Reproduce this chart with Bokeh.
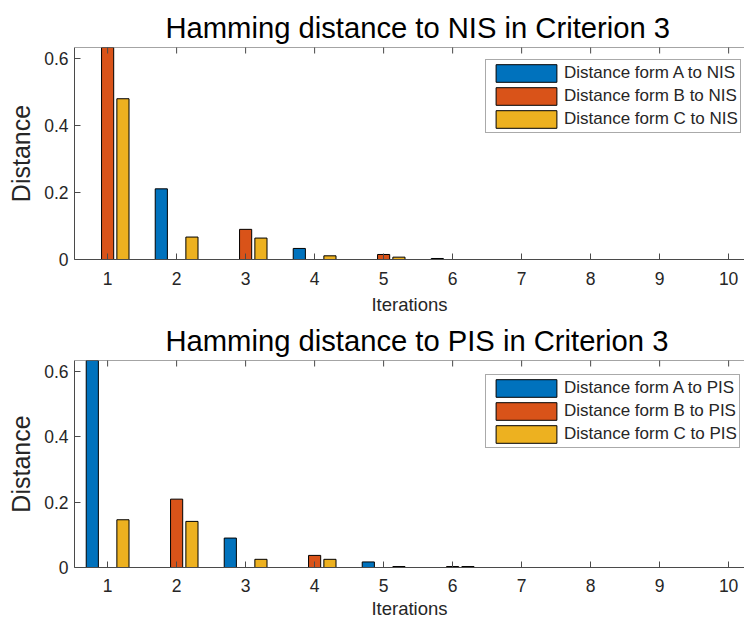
import math
from bokeh.plotting import figure
from bokeh.models import (Range1d, FixedTicker, NumeralTickFormatter,
                          ColumnDataSource, Legend, LegendItem, Span)
from bokeh.layouts import column
from bokeh.embed import file_html
from bokeh.resources import INLINE

# ---------------- data ----------------
iterations = [1, 2, 3, 4, 5, 6, 7, 8, 9, 10]

nis_A = [0.0, 0.211, 0.0, 0.033, 0.0, 0.003, 0.0, 0.0, 0.0, 0.0]
nis_B = [0.70, 0.0, 0.090, 0.0, 0.015, 0.0, 0.0, 0.0, 0.0, 0.0]
nis_C = [0.480, 0.067, 0.064, 0.011, 0.007, 0.0, 0.0, 0.0, 0.0, 0.0]

pis_A = [0.70, 0.0, 0.090, 0.0, 0.017, 0.0, 0.0, 0.0, 0.0, 0.0]
pis_B = [0.0, 0.209, 0.0, 0.037, 0.0, 0.003, 0.0, 0.0, 0.0, 0.0]
pis_C = [0.146, 0.141, 0.025, 0.025, 0.003, 0.003, 0.0, 0.0, 0.0, 0.0]

nis_labels = ["Distance form A to NIS", "Distance form B to NIS", "Distance form C to NIS"]
pis_labels = ["Distance form A to PIS", "Distance form B to PIS", "Distance form C to PIS"]
nis_title = "Hamming distance to NIS in Criterion 3"
pis_title = "Hamming distance to PIS in Criterion 3"
x_label = "Iterations"
y_label = "Distance"
y_ticks = [0, 0.2, 0.4, 0.6]
x_lim = (0.52, 10.23)
y_lim = (0, 0.633)

colors = ["#0072BD", "#D95319", "#EDB120"]
offsets = [-0.222, 0.0, 0.222]
FONT = "Liberation Sans"
TXT = "#262626"
AX = "#4a4a4a"


def make(title, series, labels, height, btop, bbot, leg_gap, tick_so, lab_so):
    p = figure(width=744, height=height, output_backend="svg", toolbar_location=None,
               x_range=Range1d(*x_lim), y_range=Range1d(*y_lim),
               min_border_left=74, min_border_right=0,
               min_border_top=btop, min_border_bottom=bbot,
               title=title)
    p.background_fill_color = "white"
    p.border_fill_color = "white"
    p.outline_line_color = None
    p.xgrid.visible = False
    p.ygrid.visible = False

    p.title.text_font = FONT
    p.title.text_font_size = "29.2px"
    p.title.text_font_style = "normal"
    p.title.text_color = "#000000"
    p.title.align = "left"
    p.title.offset = 91
    p.title.standoff = 8

    items = []
    for vals, off, col, lab in zip(series, offsets, colors, labels):
        xs = [x + off for x, v in zip(iterations, vals) if v > 0]
        ts = [v for v in vals if v > 0]
        src = ColumnDataSource(dict(x=xs, top=ts))
        r = p.vbar(x="x", top="top", bottom=0, width=0.176, source=src,
                   fill_color=col, line_color="#000000", line_width=1)
        items.append(LegendItem(label=lab, renderers=[r]))

    # top box line and inward top ticks
    p.add_layout(Span(location=y_lim[1], dimension="width", line_color=AX, line_width=1))
    p.scatter(x=iterations, y=[y_lim[1]] * len(iterations), marker="dash", size=12,
              angle=math.pi / 2, line_color=AX, line_width=1)

    xa = p.xaxis[0]
    xa.ticker = FixedTicker(ticks=iterations)
    xa.axis_label = x_label
    ya = p.yaxis[0]
    ya.ticker = FixedTicker(ticks=y_ticks)
    ya.formatter = NumeralTickFormatter(format="0.[0]")
    ya.axis_label = y_label

    for ax in (xa, ya):
        ax.axis_line_color = AX
        ax.major_tick_line_color = AX
        ax.major_tick_in = 6
        ax.major_tick_out = 0
        ax.minor_tick_line_color = None
        ax.major_label_text_font = FONT
        ax.major_label_text_color = TXT
        ax.axis_label_text_font = FONT
        ax.axis_label_text_color = TXT
        ax.axis_label_text_font_style = "normal"
    xa.major_label_text_font_size = "17.5px"
    ya.major_label_text_font_size = "17.5px"
    xa.axis_label_text_font_size = "18.5px"
    ya.axis_label_text_font_size = "25px"
    xa.major_label_standoff = tick_so
    xa.axis_label_standoff = lab_so
    ya.major_label_standoff = 6
    ya.axis_label_standoff = 6

    frame_h = height - btop - bbot
    leg = Legend(items=items, location=(411, frame_h - leg_gap - 72),
                 glyph_width=76, glyph_height=22, label_height=22,
                 label_standoff=0, spacing=1, padding=2,
                 label_text_font=FONT, label_text_font_size="17px",
                 label_text_color=TXT, border_line_color="#555555",
                 border_line_width=1, background_fill_color="white",
                 background_fill_alpha=1.0)
    p.add_layout(leg)
    return p


p1 = make(nis_title, [nis_A, nis_B, nis_C], nis_labels, 318, 47, 59, 14, 12, 6)
p2 = make(pis_title, [pis_A, pis_B, pis_C], pis_labels, 304, 42, 55, 16, 11, 3)

page = column(p1, p2, spacing=0)
open("out.html", "w").write(file_html(page, INLINE))
